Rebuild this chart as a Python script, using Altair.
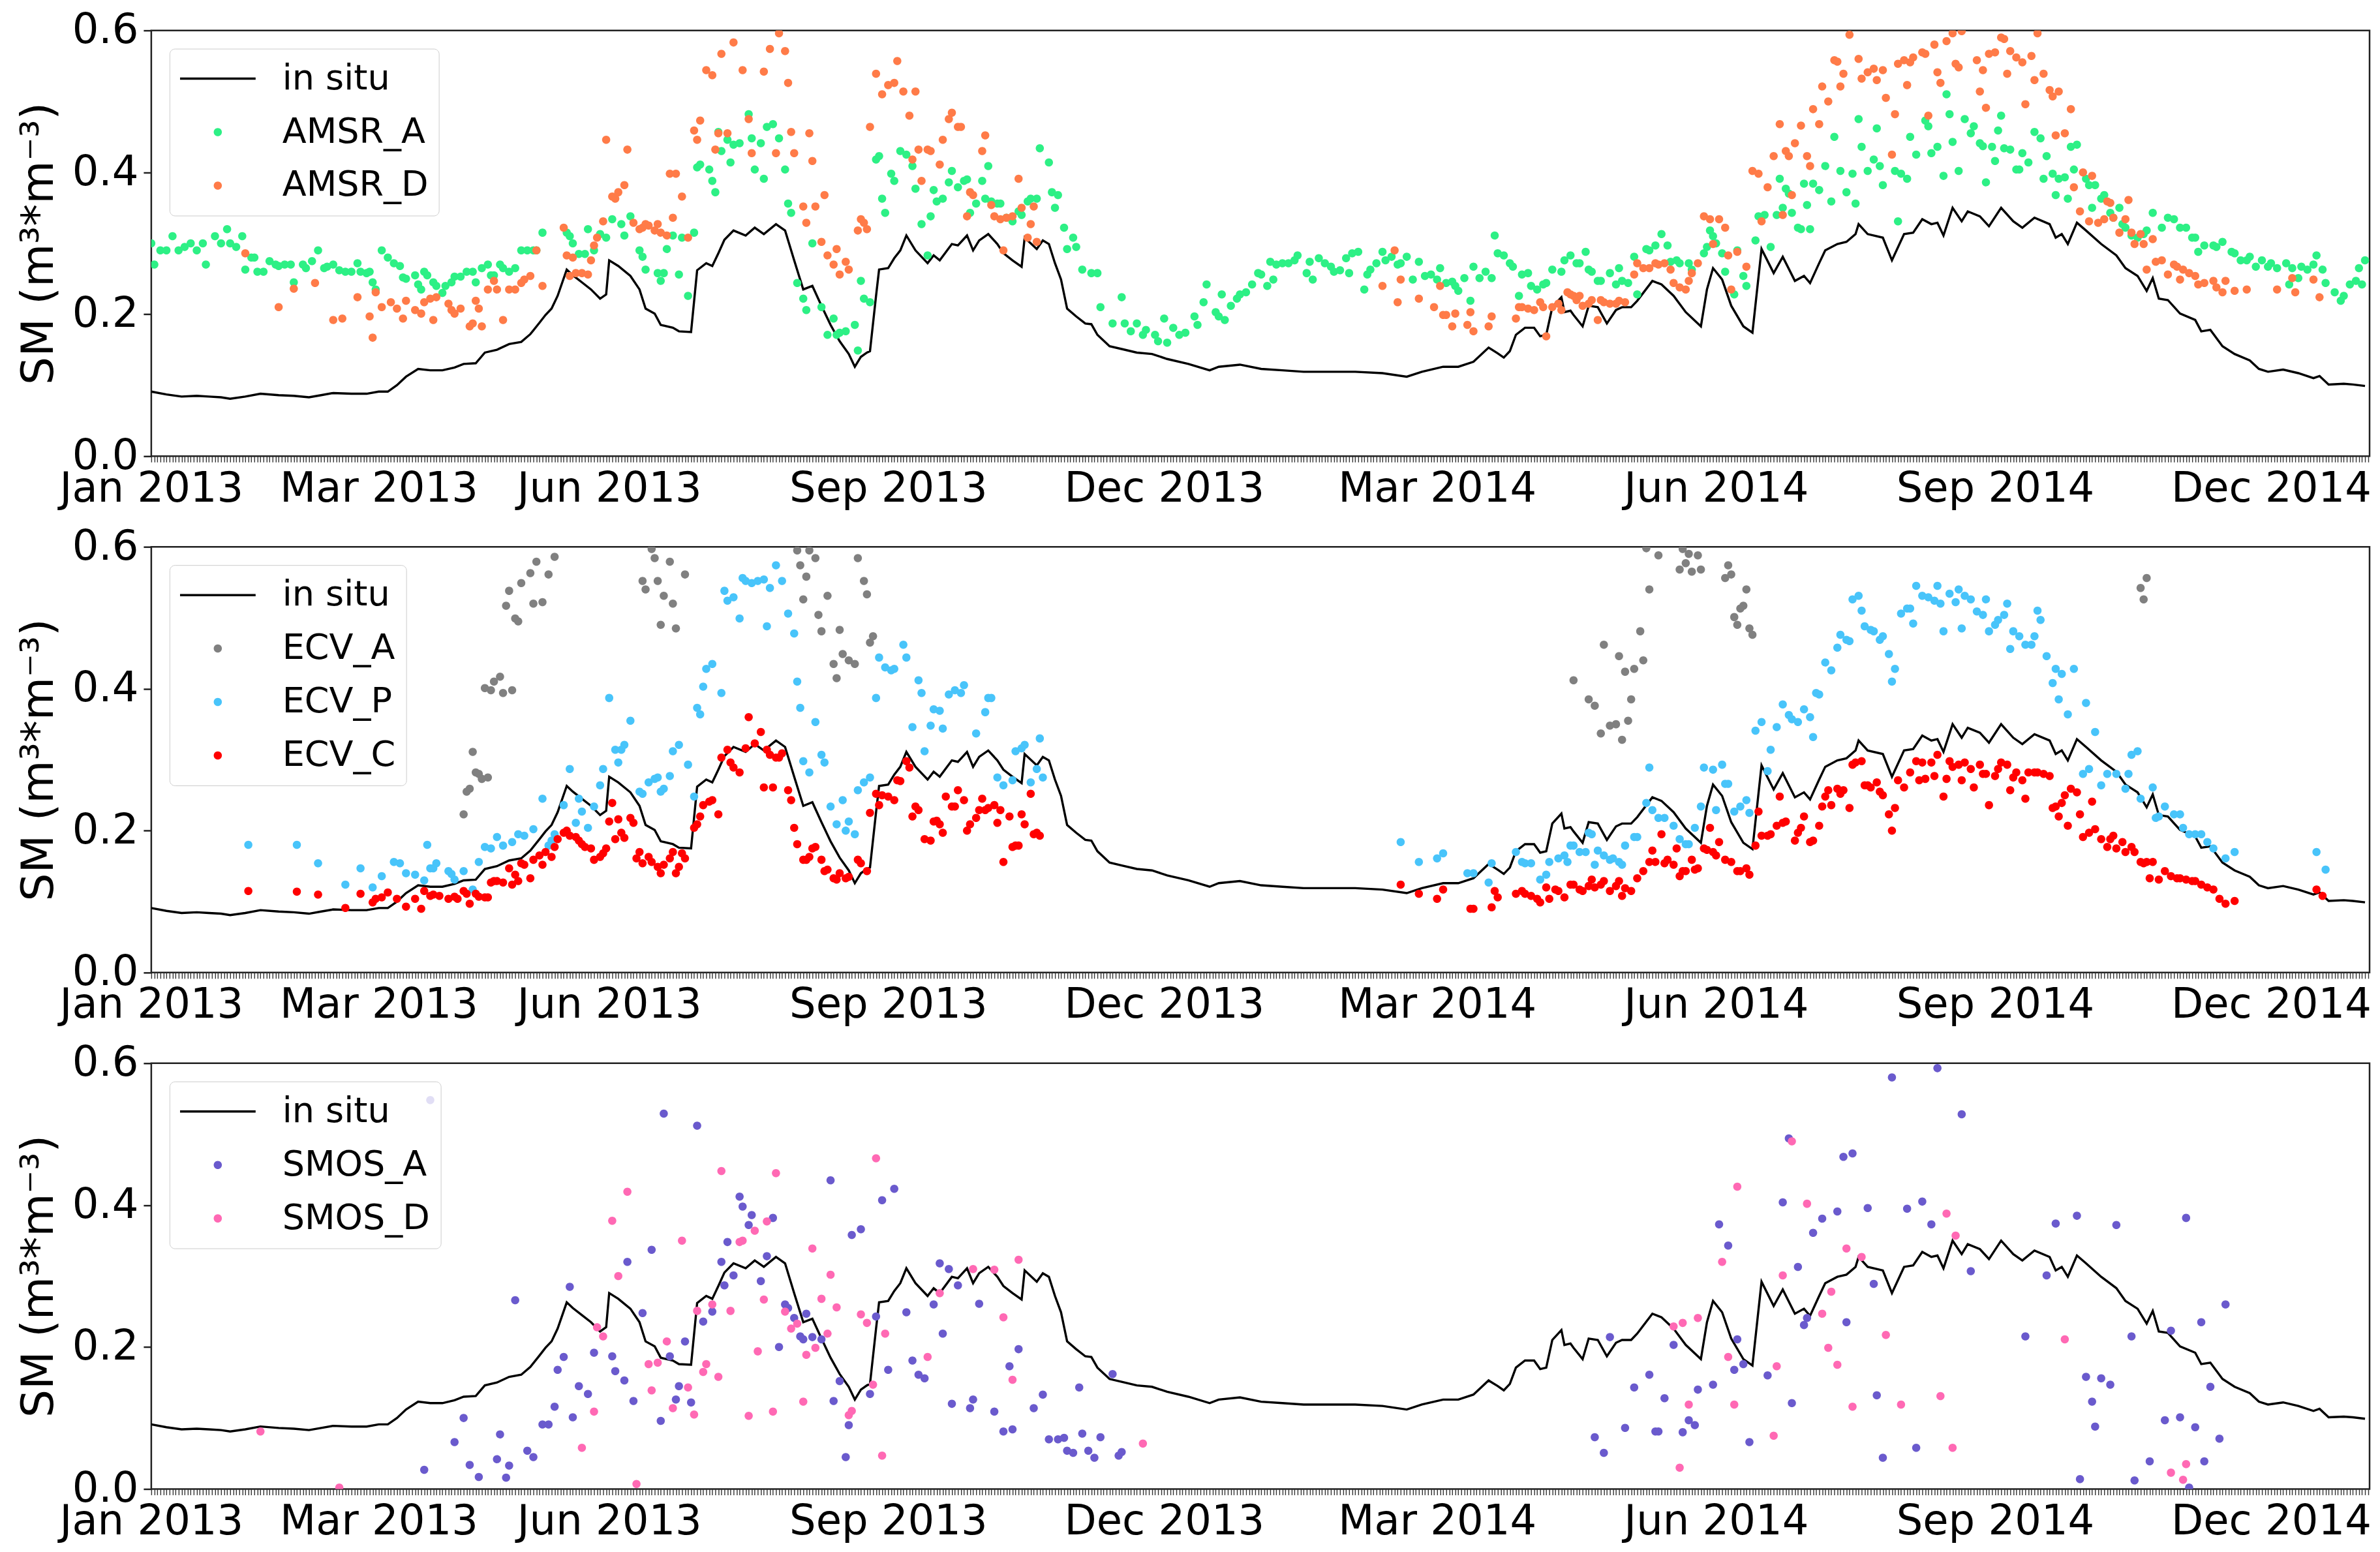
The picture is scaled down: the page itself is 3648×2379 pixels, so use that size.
import altair as alt
import pandas as pd

alt.data_transformers.disable_max_rows()

START = pd.Timestamp("2013-01-01")

# (day since 2013-01-01, soil moisture)
INSITU = [(0,.091),(5,.087),(10,.084),(15,.085),(19,.084),(23,.083),(26,.081),(31,.084),(36,.088),(42,.086),(47,.085),(52,.083),(56,.086),(60,.089),(66,.088),(71,.088),(75,.091),(78,.091),(81,.100),(84,.112),(88,.123),(92,.121),(96,.121),(100,.125),(103,.130),(107,.131),(110,.146),(114,.150),(118,.158),(122,.161),(125,.172),(128,.188),(130,.199),(132,.208),(134,.226),(137,.263),(139,.255),(142,.245),(145,.235),(148,.222),(150,.228),(151,.276),(154,.268),(158,.254),(161,.235),(163,.208),(166,.201),(168,.185),(172,.181),(174,.176),(178,.175),(180,.262),(183,.272),(185,.268),(187,.286),(189,.305),(192,.318),(196,.311),(199,.322),(202,.313),(206,.327),(209,.318),(212,.276),(215,.235),(218,.240),(221,.212),(224,.185),(227,.162),(230,.144),(232,.126),(234,.140),(236,.146),(237,.148),(239,.226),(240,.263),(243,.265),(245,.279),(247,.290),(249,.311),(252,.290),(256,.272),(258,.283),(260,.276),(264,.299),(266,.297),(269,.311),(271,.290),(273,.304),(276,.313),(279,.299),(281,.286),(284,.276),(287,.267),(288,.308),(292,.292),(294,.304),(296,.299),(298,.272),(300,.249),(302,.208),(305,.197),(308,.187),(310,.186),(312,.171),(316,.155),(320,.151),(325,.146),(330,.144),(335,.137),(342,.130),(349,.121),(352,.126),(359,.129),(366,.123),(373,.121),(380,.119),(388,.119),(397,.119),(406,.117),(414,.112),(419,.119),(426,.126),(431,.126),(436,.133),(441,.153),(444,.145),(446,.139),(448,.148),(450,.171),(453,.181),(456,.181),(458,.169),(460,.171),(462,.210),(465,.224),(466,.203),(468,.205),(469,.199),(472,.183),(474,.212),(477,.210),(480,.187),(483,.206),(485,.210),(488,.210),(490,.219),(495,.247),(498,.242),(502,.226),(506,.203),(511,.183),(513,.235),(515,.265),(518,.249),(521,.212),(525,.183),(528,.174),(531,.292),(535,.258),(538,.281),(542,.247),(545,.254),(547,.244),(550,.272),(552,.290),(556,.299),(559,.302),(562,.313),(563,.327),(566,.313),(571,.308),(574,.276),(578,.313),(581,.315),(584,.334),(587,.327),(589,.329),(591,.311),(594,.350),(597,.331),(599,.345),(603,.338),(606,.324),(610,.350),(614,.331),(617,.322),(621,.336),(626,.327),(628,.308),(630,.313),(632,.299),(635,.329),(638,.318),(643,.299),(648,.283),(651,.265),(655,.254),(658,.233),(660,.251),(662,.222),(665,.220),(669,.201),(674,.192),(676,.176),(679,.178),(683,.155),(687,.144),(692,.135),(695,.123),(698,.119),(703,.122),(708,.117),(713,.110),(715,.113),(718,.101),(723,.102),(726,.101),(730,.099)]

AMSR_A = [(0,.300),(1,.270),(3,.290),(5,.290),(7,.310),(9,.290),(11,.295),(13,.300),(15,.290),(17,.300),(18,.270),(21,.310),(23,.300),(25,.320),(26,.300),(28,.295),(30,.310),(31,.263),(33,.280),(34,.280),(35,.260),(37,.260),(39,.275),(41,.270),(42,.268),(44,.270),(46,.270),(47,.245),(50,.270),(51,.265),(53,.275),(55,.290),(57,.265),(58,.267),(60,.270),(62,.262),(64,.260),(66,.260),(68,.272),(69,.260),(71,.258),(72,.260),(73,.245),(74,.235),(76,.290),(78,.280),(80,.272),(82,.268),(83,.252),(84,.250),(87,.255),(88,.242),(89,.235),(90,.260),(91,.255),(93,.245),(94,.240),(96,.230),(97,.240),(99,.245),(100,.253),(102,.253),(104,.260),(106,.260),(107,.245),(109,.265),(111,.270),(112,.255),(113,.255),(115,.270),(116,.265),(118,.260),(120,.265),(122,.290),(124,.290),(126,.290),(127,.290),(129,.315),(137,.315),(138,.310),(139,.300),(141,.285),(143,.285),(144,.320),(146,.290),(148,.313),(150,.308),(152,.334),(155,.327),(156,.311),(158,.338),(161,.290),(162,.281),(163,.263),(167,.258),(168,.247),(169,.258),(170,.292),(172,.311),(174,.256),(175,.308),(177,.226),(179,.315),(180,.407),(181,.411),(184,.404),(185,.388),(186,.372),(187,.457),(188,.430),(190,.446),(191,.414),(192,.439),(194,.441),(197,.482),(198,.448),(199,.404),(201,.441),(202,.391),(203,.464),(205,.468),(207,.448),(209,.404),(210,.356),(211,.343),(213,.244),(215,.222),(216,.206),(218,.300),(221,.210),(223,.171),(225,.194),(226,.171),(227,.174),(229,.176),(232,.185),(233,.149),(234,.247),(235,.222),(237,.217),(239,.418),(240,.423),(241,.363),(242,.343),(244,.398),(245,.388),(247,.430),(249,.425),(251,.409),(252,.377),(254,.327),(256,.283),(257,.338),(258,.375),(259,.359),(261,.363),(263,.386),(264,.402),(266,.379),(268,.388),(269,.390),(270,.343),(272,.356),(274,.388),(275,.363),(276,.409),(277,.359),(279,.356),(280,.356),(282,.336),(284,.331),(286,.345),(287,.340),(289,.359),(290,.363),(292,.363),(293,.434),(296,.414),(297,.372),(298,.350),(299,.368),(301,.322),(302,.292),(304,.308),(305,.295),(307,.263),(310,.258),(312,.258),(313,.210),(317,.187),(320,.224),(321,.187),(323,.176),(325,.187),(327,.171),(328,.178),(331,.171),(332,.162),(334,.194),(335,.160),(337,.181),(339,.171),(341,.174),(344,.197),(345,.185),(347,.217),(348,.242),(351,.203),(352,.197),(353,.228),(354,.192),(356,.212),(358,.222),(359,.228),(361,.231),(363,.242),(365,.258),(366,.256),(368,.240),(369,.274),(370,.249),(371,.270),(373,.272),(375,.272),(377,.276),(378,.283),(381,.258),(382,.274),(383,.249),(385,.279),(387,.272),(389,.267),(390,.260),(392,.262),(394,.279),(395,.258),(396,.286),(398,.288),(400,.235),(401,.256),(402,.263),(404,.272),(406,.288),(407,.276),(409,.281),(411,.270),(412,.272),(414,.281),(416,.249),(418,.274),(420,.254),(422,.256),(424,.249),(425,.265),(427,.244),(429,.246),(430,.240),(431,.233),(433,.251),(435,.219),(436,.267),(438,.251),(440,.260),(442,.251),(443,.311),(444,.286),(446,.283),(448,.272),(449,.267),(451,.226),(452,.256),(454,.258),(455,.240),(457,.235),(459,.242),(460,.244),(462,.263),(465,.260),(466,.276),(468,.283),(470,.272),(471,.272),(473,.288),(474,.263),(475,.260),(477,.247),(478,.247),(481,.258),(483,.242),(484,.265),(485,.247),(487,.244),(489,.281),(490,.228),(493,.292),(494,.290),(496,.297),(498,.313),(500,.297),(501,.274),(503,.276),(504,.272),(507,.272),(508,.263),(512,.286),(513,.295),(514,.318),(515,.310),(516,.300),(518,.286),(519,.260),(522,.228),(523,.290),(525,.254),(526,.240),(529,.304),(530,.338),(532,.340),(534,.295),(536,.340),(537,.391),(538,.350),(539,.377),(540,.370),(541,.343),(543,.322),(544,.320),(545,.384),(546,.354),(547,.320),(548,.384),(550,.375),(552,.409),(554,.359),(555,.450),(557,.402),(559,.372),(561,.398),(562,.356),(563,.475),(564,.436),(566,.402),(568,.418),(569,.462),(570,.409),(571,.382),(575,.402),(576,.331),(577,.398),(579,.391),(580,.450),(582,.425),(585,.473),(586,.465),(587,.427),(589,.436),(591,.395),(592,.510),(593,.482),(594,.443),(596,.402),(598,.475),(600,.455),(601,.465),(603,.441),(604,.437),(605,.386),(607,.436),(608,.416),(609,.459),(610,.480),(611,.434),(613,.432),(615,.404),(616,.404),(617,.427),(619,.414),(621,.457),(623,.448),(624,.391),(625,.423),(627,.398),(628,.368),(629,.391),(631,.393),(632,.363),(633,.436),(634,.404),(635,.439),(638,.391),(639,.382),(640,.350),(641,.382),(643,.363),(644,.368),(646,.343),(647,.336),(649,.350),(650,.327),(651,.322),(653,.311),(655,.308),(657,.313),(658,.318),(660,.343),(663,.322),(665,.336),(667,.334),(669,.322),(671,.322),(673,.308),(674,.308),(675,.288),(677,.297),(680,.297),(681,.295),(683,.302),(686,.288),(687,.286),(689,.276),(691,.276),(692,.281),(694,.267),(696,.276),(698,.267),(699,.272),(701,.265),(704,.272),(705,.242),(706,.265),(708,.251),(709,.267),(711,.263),(713,.270),(714,.283),(716,.263),(717,.244),(720,.231),(722,.219),(723,.226),(725,.242),(727,.247),(728,.265),(729,.242),(730,.276)]

AMSR_D = [(31,.286),(42,.210),(47,.236),(54,.244),(60,.192),(63,.194),(68,.224),(72,.197),(73,.167),(74,.231),(76,.210),(79,.217),(81,.208),(83,.194),(84,.219),(87,.206),(89,.201),(90,.217),(92,.222),(93,.192),(94,.224),(98,.215),(99,.206),(100,.201),(102,.208),(105,.183),(106,.187),(107,.219),(108,.208),(109,.183),(111,.235),(113,.247),(114,.235),(116,.192),(118,.235),(120,.235),(122,.244),(123,.249),(125,.254),(127,.290),(129,.240),(136,.322),(137,.283),(138,.254),(139,.280),(140,.258),(142,.258),(144,.256),(145,.276),(146,.297),(147,.308),(149,.331),(150,.446),(152,.366),(153,.363),(154,.372),(156,.382),(157,.432),(159,.329),(161,.320),(162,.322),(163,.327),(164,.325),(166,.318),(167,.327),(168,.315),(170,.311),(171,.398),(172,.336),(173,.398),(175,.366),(177,.308),(179,.459),(180,.446),(181,.473),(183,.544),(185,.537),(186,.432),(187,.455),(188,.567),(190,.455),(192,.583),(195,.544),(197,.475),(198,.427),(202,.542),(204,.574),(206,.427),(207,.596),(209,.571),(210,.526),(211,.457),(212,.427),(215,.352),(216,.329),(217,.455),(218,.416),(219,.352),(221,.302),(222,.368),(223,.283),(225,.270),(226,.292),(227,.256),(229,.274),(230,.263),(233,.318),(234,.334),(235,.329),(236,.320),(237,.464),(239,.539),(241,.510),(243,.523),(245,.526),(246,.557),(248,.514),(250,.480),(251,.418),(252,.514),(253,.432),(254,.388),(256,.432),(257,.430),(260,.411),(261,.446),(263,.475),(264,.484),(266,.464),(267,.464),(269,.338),(270,.372),(271,.368),(274,.430),(275,.452),(277,.354),(278,.338),(280,.334),(281,.290),(282,.336),(284,.338),(286,.391),(287,.350),(289,.308),(290,.327),(291,.352),(292,.302),(406,.240),(410,.290),(411,.217),(412,.249),(418,.222),(423,.210),(425,.240),(426,.199),(427,.199),(429,.183),(430,.201),(434,.185),(435,.203),(436,.176),(441,.183),(442,.197),(450,.194),(451,.210),(452,.210),(454,.208),(456,.206),(458,.217),(459,.210),(460,.169),(462,.210),(464,.215),(465,.206),(467,.231),(468,.228),(469,.226),(470,.220),(471,.226),(472,.212),(474,.215),(475,.220),(477,.192),(478,.220),(479,.217),(481,.215),(483,.215),(484,.219),(486,.217),(489,.256),(490,.272),(492,.265),(494,.265),(496,.272),(497,.270),(499,.272),(501,.263),(502,.244),(504,.238),(506,.235),(507,.247),(508,.258),(510,.272),(512,.338),(514,.334),(515,.299),(517,.334),(519,.322),(520,.283),(521,.235),(523,.288),(526,.267),(528,.402),(530,.398),(531,.331),(533,.379),(535,.423),(537,.468),(538,.340),(539,.430),(540,.423),(541,.368),(542,.441),(544,.466),(546,.423),(547,.409),(548,.489),(550,.468),(551,.521),(553,.500),(555,.558),(556,.556),(557,.521),(558,.539),(560,.594),(563,.560),(564,.532),(566,.541),(568,.546),(569,.530),(571,.544),(572,.505),(574,.425),(575,.482),(576,.553),(578,.558),(579,.523),(580,.555),(581,.562),(584,.569),(585,.567),(586,.480),(588,.580),(589,.541),(590,.526),(592,.585),(594,.596),(595,.553),(596,.548),(597,.599),(602,.558),(603,.514),(604,.544),(605,.491),(606,.567),(608,.569),(610,.590),(611,.588),(612,.539),(613,.571),(615,.562),(617,.555),(618,.496),(620,.564),(621,.530),(622,.596),(624,.539),(626,.516),(627,.507),(628,.452),(629,.514),(631,.455),(633,.489),(634,.379),(636,.345),(637,.400),(639,.331),(640,.395),(642,.329),(644,.334),(645,.359),(646,.357),(647,.336),(649,.315),(651,.334),(652,.361),(653,.315),(654,.299),(656,.313),(657,.299),(658,.263),(660,.306),(661,.274),(663,.276),(665,.256),(667,.270),(668,.267),(669,.249),(670,.263),(672,.258),(674,.254),(675,.242),(677,.244),(680,.247),(681,.238),(683,.231),(684,.247),(687,.233),(691,.235),(701,.235),(706,.251),(707,.231),(713,.249),(715,.224)]

ECV_A = [(103,.223),(104,.255),(105,.259),(106,.311),(107,.282),(108,.280),(109,.273),(111,.275),(110,.401),(112,.398),(113,.410),(115,.417),(116,.394),(119,.398),(117,.517),(118,.538),(120,.499),(121,.495),(122,.549),(125,.563),(126,.520),(127,.579),(129,.522),(131,.561),(133,.586),(162,.552),(163,.540),(165,.597),(166,.584),(167,.552),(168,.490),(169,.531),(171,.579),(172,.520),(173,.485),(176,.561),(213,.595),(214,.574),(215,.526),(216,.558),(217,.595),(219,.584),(220,.504),(221,.481),(223,.531),(225,.435),(226,.415),(227,.483),(228,.449),(230,.440),(232,.435),(233,.584),(235,.552),(236,.533),(237,.465),(238,.474),(469,.412),(474,.385),(476,.376),(478,.337),(479,.462),(481,.348),(483,.350),(484,.446),(485,.328),(486,.424),(487,.355),(488,.385),(489,.428),(491,.481),(492,.440),(493,.598),(494,.540),(497,.588),(504,.568),(505,.597),(506,.577),(507,.590),(508,.565),(510,.588),(511,.568),(519,.556),(520,.574),(521,.561),(522,.501),(523,.490),(524,.513),(525,.517),(526,.540),(527,.485),(528,.476),(656,.542),(657,.526),(658,.556)]

ECV_P = [(32,.180),(48,.180),(55,.154),(64,.124),(69,.147),(73,.120),(76,.136),(80,.156),(82,.154),(84,.140),(87,.138),(90,.130),(91,.180),(92,.147),(93,.147),(94,.154),(98,.143),(99,.139),(100,.131),(103,.143),(106,.117),(108,.156),(110,.177),(112,.175),(114,.191),(116,.179),(119,.184),(121,.195),(123,.193),(126,.202),(129,.245),(131,.179),(132,.186),(133,.195),(136,.236),(138,.287),(140,.211),(141,.245),(142,.227),(144,.204),(146,.234),(148,.264),(149,.287),(151,.387),(153,.314),(154,.296),(155,.314),(156,.321),(158,.355),(161,.255),(162,.252),(164,.268),(166,.273),(167,.275),(168,.255),(169,.259),(171,.277),(172,.312),(174,.321),(177,.293),(179,.248),(180,.373),(181,.364),(182,.403),(183,.428),(185,.435),(188,.394),(189,.538),(190,.524),(192,.529),(194,.499),(195,.556),(196,.552),(198,.549),(200,.552),(202,.554),(203,.488),(204,.542),(206,.574),(208,.552),(210,.506),(212,.478),(213,.410),(214,.373),(215,.298),(217,.282),(219,.353),(221,.307),(222,.296),(224,.234),(226,.209),(228,.243),(229,.200),(230,.213),(232,.195),(233,.257),(235,.268),(237,.275),(239,.387),(240,.444),(242,.430),(244,.426),(245,.428),(248,.462),(249,.444),(251,.346),(253,.412),(254,.394),(255,.312),(257,.348),(258,.371),(260,.369),(261,.344),(263,.392),(265,.398),(267,.394),(268,.405),(272,.337),(275,.367),(276,.387),(277,.387),(279,.275),(281,.264),(284,.271),(285,.312),(287,.316),(288,.321),(290,.268),(292,.287),(293,.330),(294,.275),(412,.184),(418,.156),(424,.161),(426,.168),(434,.140),(436,.140),(441,.127),(442,.154),(450,.170),(452,.156),(453,.154),(455,.154),(458,.131),(460,.138),(461,.156),(464,.161),(466,.165),(467,.156),(468,.179),(469,.179),(471,.170),(473,.170),(474,.197),(475,.195),(476,.152),(477,.172),(479,.165),(481,.159),(482,.161),(484,.156),(485,.152),(486,.179),(489,.191),(490,.191),(493,.239),(494,.289),(495,.229),(497,.218),(499,.218),(502,.207),(504,.188),(506,.181),(507,.181),(509,.204),(511,.234),(512,.289),(515,.286),(516,.229),(518,.293),(519,.266),(520,.266),(522,.227),(524,.234),(526,.243),(527,.225),(529,.341),(531,.353),(533,.284),(534,.314),(536,.346),(538,.378),(540,.363),(541,.357),(543,.353),(545,.371),(547,.360),(548,.332),(549,.394),(550,.392),(552,.437),(554,.426),(556,.458),(557,.476),(559,.469),(560,.467),(561,.526),(563,.531),(564,.510),(565,.488),(567,.483),(568,.481),(570,.469),(571,.474),(573,.449),(574,.410),(575,.428),(577,.506),(579,.513),(580,.513),(581,.492),(582,.545),(584,.531),(586,.529),(588,.524),(589,.545),(590,.520),(591,.481),(593,.534),(595,.522),(596,.540),(597,.485),(598,.531),(600,.526),(602,.509),(604,.504),(605,.526),(606,.481),(608,.490),(609,.497),(611,.504),(612,.520),(613,.456),(614,.481),(616,.474),(618,.462),(620,.462),(621,.474),(622,.510),(623,.497),(625,.446),(627,.408),(628,.428),(629,.385),(630,.421),(632,.364),(634,.428),(637,.280),(638,.380),(639,.287),(641,.339),(643,.264),(645,.280),(648,.280),(651,.259),(652,.280),(653,.307),(655,.312),(656,.245),(660,.261),(661,.218),(662,.220),(664,.234),(667,.223),(669,.223),(670,.204),(672,.195),(674,.195),(676,.195),(678,.184),(680,.175),(684,.161),(687,.170),(714,.170),(717,.145)]

ECV_C = [(32,.115),(48,.114),(55,.110),(64,.091),(69,.111),(73,.099),(74,.104),(76,.106),(78,.113),(81,.104),(84,.093),(87,.104),(89,.090),(90,.115),(92,.108),(93,.110),(95,.108),(98,.104),(100,.107),(101,.104),(103,.115),(104,.111),(105,.097),(107,.111),(108,.107),(110,.106),(111,.106),(112,.127),(113,.129),(114,.129),(116,.127),(118,.147),(119,.124),(120,.138),(121,.129),(122,.154),(123,.152),(125,.133),(126,.159),(128,.165),(129,.152),(130,.170),(132,.163),(133,.177),(134,.188),(136,.197),(137,.200),(138,.193),(140,.191),(141,.186),(142,.181),(143,.177),(145,.175),(146,.159),(148,.163),(149,.168),(150,.175),(151,.213),(152,.239),(153,.188),(154,.216),(155,.197),(156,.190),(158,.218),(159,.211),(160,.161),(161,.170),(162,.154),(164,.163),(165,.156),(167,.149),(168,.140),(169,.152),(171,.161),(172,.170),(173,.140),(174,.149),(175,.168),(176,.161),(179,.204),(180,.209),(181,.220),(182,.236),(184,.241),(185,.243),(187,.223),(188,.303),(190,.314),(191,.296),(192,.289),(194,.282),(196,.316),(197,.360),(199,.323),(201,.339),(202,.261),(203,.314),(204,.307),(205,.261),(206,.303),(207,.303),(208,.309),(210,.257),(211,.243),(212,.204),(213,.181),(215,.159),(216,.159),(217,.163),(218,.175),(219,.177),(221,.159),(222,.143),(223,.145),(225,.133),(226,.131),(227,.140),(229,.133),(230,.135),(233,.159),(234,.154),(236,.143),(237,.225),(239,.252),(240,.236),(241,.250),(243,.248),(245,.243),(246,.271),(247,.270),(249,.298),(250,.289),(251,.220),(252,.234),(253,.229),(255,.188),(257,.186),(258,.213),(259,.214),(260,.209),(261,.197),(262,.248),(264,.234),(265,.234),(266,.257),(268,.243),(269,.200),(270,.209),(272,.218),(273,.229),(274,.245),(275,.229),(276,.232),(278,.236),(279,.211),(280,.229),(281,.156),(283,.220),(284,.177),(285,.179),(286,.179),(287,.223),(288,.209),(290,.252),(291,.195),(292,.197),(293,.193),(412,.124),(418,.111),(424,.104),(426,.117),(435,.090),(436,.090),(442,.092),(443,.115),(444,.106),(450,.111),(452,.115),(453,.111),(455,.108),(457,.104),(458,.099),(460,.120),(461,.104),(463,.117),(464,.115),(466,.106),(468,.124),(469,.124),(471,.117),(472,.115),(474,.122),(475,.131),(476,.120),(478,.124),(479,.129),(481,.115),(483,.122),(484,.129),(485,.108),(486,.119),(488,.115),(490,.133),(492,.143),(494,.156),(495,.172),(496,.156),(498,.195),(499,.154),(500,.159),(502,.152),(503,.175),(504,.136),(505,.143),(506,.143),(508,.159),(509,.145),(510,.147),(512,.175),(513,.173),(514,.204),(515,.170),(516,.165),(517,.184),(519,.159),(521,.156),(523,.143),(524,.143),(526,.147),(527,.138),(529,.179),(530,.227),(531,.193),(533,.193),(534,.195),(536,.207),(537,.248),(538,.211),(539,.213),(542,.186),(543,.197),(544,.204),(545,.220),(547,.184),(548,.186),(550,.207),(551,.234),(552,.248),(553,.257),(554,.236),(556,.259),(557,.252),(558,.257),(560,.232),(561,.293),(562,.296),(564,.298),(565,.264),(566,.264),(567,.261),(569,.268),(570,.255),(571,.250),(573,.223),(574,.200),(575,.232),(576,.271),(578,.261),(580,.282),(582,.298),(583,.271),(584,.296),(585,.273),(587,.296),(588,.277),(589,.307),(591,.248),(592,.273),(593,.298),(594,.290),(596,.293),(597,.271),(598,.296),(600,.287),(601,.261),(603,.293),(604,.280),(605,.280),(606,.236),(608,.277),(609,.287),(610,.296),(612,.293),(613,.257),(614,.275),(615,.282),(617,.271),(618,.245),(619,.282),(621,.282),(622,.282),(624,.280),(626,.277),(627,.232),(628,.234),(629,.220),(630,.239),(631,.250),(632,.207),(633,.259),(635,.254),(636,.223),(637,.191),(639,.197),(640,.241),(641,.202),(643,.188),(645,.177),(646,.188),(647,.193),(648,.175),(650,.184),(651,.170),(653,.177),(654,.170),(656,.156),(657,.154),(658,.156),(659,.133),(660,.156),(662,.131),(664,.143),(666,.136),(668,.133),(669,.133),(671,.131),(673,.129),(674,.129),(676,.124),(678,.120),(680,.117),(682,.104),(684,.097),(687,.101),(714,.117),(716,.108)]

SMOS_A = [(92,.548),(90,.027),(100,.066),(103,.100),(105,.034),(108,.017),(114,.042),(115,.077),(117,.016),(118,.033),(120,.266),(124,.054),(126,.045),(129,.091),(131,.091),(133,.116),(134,.168),(136,.186),(138,.285),(139,.101),(141,.145),(144,.134),(146,.192),(152,.187),(153,.166),(156,.153),(157,.320),(159,.124),(162,.248),(165,.337),(168,.096),(169,.529),(171,.187),(173,.126),(174,.145),(176,.208),(178,.122),(180,.512),(182,.236),(185,.250),(188,.320),(189,.287),(190,.348),(192,.301),(194,.412),(195,.398),(197,.372),(198,.386),(201,.293),(203,.328),(205,.382),(207,.200),(209,.260),(210,.255),(212,.241),(214,.215),(215,.211),(216,.247),(218,.214),(221,.211),(224,.435),(225,.124),(227,.152),(229,.045),(230,.090),(231,.358),(234,.366),(237,.134),(239,.243),(241,.407),(243,.168),(245,.423),(249,.249),(251,.181),(253,.161),(255,.156),(258,.260),(260,.318),(261,.219),(263,.310),(264,.120),(266,.287),(270,.114),(271,.126),(273,.261),(278,.109),(281,.081),(283,.173),(284,.084),(286,.197),(291,.114),(294,.133),(296,.070),(299,.070),(301,.072),(302,.054),(304,.051),(306,.143),(307,.078),(309,.054),(311,.044),(313,.073),(317,.162),(319,.047),(320,.052),(476,.073),(479,.051),(481,.214),(486,.086),(489,.143),(494,.161),(496,.081),(497,.081),(499,.128),(502,.203),(505,.080),(507,.097),(509,.090),(510,.140),(515,.147),(517,.373),(520,.343),(522,.168),(523,.211),(525,.176),(527,.066),(533,.160),(538,.404),(540,.494),(541,.121),(543,.313),(545,.231),(546,.241),(548,.361),(551,.381),(556,.391),(558,.468),(559,.235),(561,.473),(566,.396),(568,.289),(569,.132),(571,.044),(574,.580),(579,.395),(582,.058),(584,.405),(587,.373),(589,.593),(597,.528),(600,.307),(618,.215),(625,.301),(628,.374),(635,.385),(636,.014),(638,.158),(640,.123),(641,.088),(643,.156),(646,.147),(648,.372),(653,.215),(654,.012),(659,.039),(664,.097),(666,.223),(669,.101),(671,.382),(672,.002),(674,.087),(676,.235),(677,.039),(679,.144),(682,.071),(684,.260)]

SMOS_D = [(36,.081),(62,.002),(142,.058),(146,.109),(149,.215),(147,.228),(152,.378),(154,.300),(157,.419),(160,.007),(164,.176),(165,.139),(167,.178),(170,.208),(172,.114),(175,.350),(177,.143),(179,.105),(180,.251),(182,.165),(183,.176),(185,.260),(187,.158),(188,.448),(191,.251),(194,.348),(195,.350),(197,.103),(199,.364),(200,.194),(202,.267),(203,.377),(205,.109),(206,.445),(209,.250),(211,.226),(213,.233),(215,.123),(216,.189),(218,.339),(219,.199),(221,.268),(223,.219),(224,.302),(226,.256),(230,.104),(231,.110),(234,.246),(236,.234),(238,.147),(239,.466),(241,.047),(242,.219),(256,.186),(260,.276),(271,.310),(278,.309),(281,.242),(284,.154),(286,.323),(327,.064),(502,.229),(505,.234),(504,.030),(507,.119),(510,.241),(518,.320),(520,.186),(522,.119),(523,.426),(535,.075),(536,.173),(538,.301),(541,.490),(546,.402),(551,.247),(553,.199),(554,.278),(556,.175),(559,.339),(561,.116),(564,.327),(572,.217),(577,.119),(590,.131),(592,.388),(594,.058),(595,.357),(631,.211),(666,.023),(670,.013),(671,.035)]

PANELS = [
    [("AMSR_A", AMSR_A, "#2DF085"), ("AMSR_D", AMSR_D, "#FF7B48")],
    [("ECV_A", ECV_A, "#808080"), ("ECV_P", ECV_P, "#48C4FA"), ("ECV_C", ECV_C, "#FF0000")],
    [("SMOS_A", SMOS_A, "#6A5ACD"), ("SMOS_D", SMOS_D, "#FF69B4")],
]

LABEL_DATES = ["2013-01-01", "2013-03-17", "2013-06-01", "2013-09-01", "2013-12-01",
               "2014-03-01", "2014-06-01", "2014-09-01", "2014-12-01"]

LINE_SHAPE = "M-1,-0.03L1,-0.03L1,0.03L-1,0.03Z"
DOT_SHAPE = "M-0.108,0A0.108,0.108,0,1,0,0.108,0A0.108,0.108,0,1,0,-0.108,0Z"
SYM_SIZE = 13456

FONT = "DejaVu Sans"


def frame(pairs, name):
    days = [p[0] for p in pairs]
    vals = [p[1] for p in pairs]
    return pd.DataFrame({
        "date": START + pd.to_timedelta(days, unit="D"),
        "sm": vals,
        "series": name,
    })


insitu_df = frame(INSITU, "in situ")

label_list = ",".join("'%s'" % d for d in LABEL_DATES)
LABEL_EXPR = ("indexof([%s], timeFormat(datum.value, '%%Y-%%m-%%d')) >= 0 ? "
              "timeFormat(datum.value, '%%b %%Y') : ''") % label_list

X = alt.X(
    "date:T", title=None,
    scale=alt.Scale(domain=[alt.DateTime(year=2013, month=1, date=1),
                            alt.DateTime(year=2015, month=1, date=2, hours=12)]),
    axis=alt.Axis(tickCount={"interval": "day", "step": 1}, labelExpr=LABEL_EXPR,
                  labelOverlap=False, labelFlush=False, labelAngle=0, labelLimit=1000,
                  tickSize=9, tickWidth=1.4, tickColor="#333333",
                  labelFontSize=64, labelPadding=9, labelFont=FONT, labelColor="black",
                  grid=False, domain=False),
)

Y = alt.Y(
    "sm:Q",
    scale=alt.Scale(domain=[0, 0.6], nice=False),
    axis=alt.Axis(values=[0, 0.2, 0.4, 0.6], format=".1f", title="SM (m³*m⁻³)",
                  titleFontSize=68, titleFontWeight="normal", titlePadding=16,
                  titleFont=FONT, titleColor="black", titleLimit=1000,
                  labelFontSize=64, labelPadding=8, labelFont=FONT, labelColor="black",
                  tickSize=12, tickWidth=2.5, tickColor="#222222",
                  grid=False, domain=False),
)


def make_legend():
    return alt.Legend(title=None, orient="none", legendX=28, legendY=28,
                      labelFontSize=54, labelFont=FONT, labelColor="black",
                      symbolSize=SYM_SIZE, symbolStrokeWidth=0, symbolOffset=0,
                      clipHeight=60, rowPadding=22, labelOffset=41, padding=16,
                      cornerRadius=8, strokeColor="#cccccc",
                      fillColor="rgba(255,255,255,0.8)", labelLimit=800,
                      symbolOpacity=1)


def panel(series):
    names = [s[0] for s in series]
    colors = [s[2] for s in series]
    domain = ["in situ"] + names
    pts_df = pd.concat([frame(s[1], s[0]) for s in series], ignore_index=True)
    line = alt.Chart(insitu_df).mark_line(color="black", strokeWidth=3.4, clip=True).encode(x=X, y=Y)
    pts = alt.Chart(pts_df).mark_point(filled=True, size=SYM_SIZE, strokeWidth=0,
                                       opacity=1, clip=True).encode(
        x=X, y=Y,
        color=alt.Color("series:N", scale=alt.Scale(domain=domain, range=["black"] + colors),
                        legend=make_legend()),
        shape=alt.Shape("series:N", scale=alt.Scale(domain=domain,
                                                    range=[LINE_SHAPE] + [DOT_SHAPE] * len(names)),
                        legend=make_legend()),
    )
    return alt.layer(line, pts).properties(width=3402, height=653)


chart = alt.vconcat(*[panel(p) for p in PANELS], spacing=21).resolve_scale(
    color="independent", shape="independent", x="independent", y="independent"
).resolve_legend(color="independent", shape="independent").properties(
    padding={"left": 16, "top": 4, "right": 4, "bottom": 4},
    background="white",
).configure(font=FONT).configure_view(stroke="#222222", strokeWidth=2.5)

chart.save("out.html", embed_options={"renderer": "svg", "actions": False})
